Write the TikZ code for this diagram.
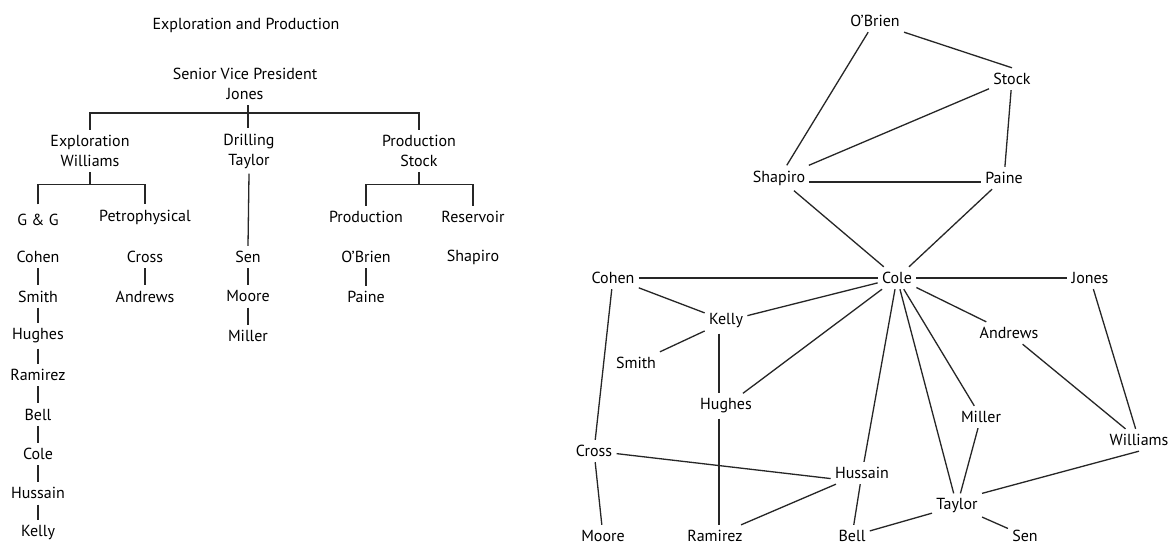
\documentclass[tikz,border=0pt]{standalone}
\usepackage{fontspec}
\setmainfont{PT Sans}

\tikzset{
  person/.style={font=\fontsize{8}{10}\selectfont, inner xsep=2pt, inner ysep=2.5pt, align=center, text=black},
  link/.style={black!85, line width=0.65pt},
}

\begin{document}
\begin{tikzpicture}[x=0.5pt, y=-0.5pt]
  \fill[white] (0,0) rectangle (1170,547);
  \useasboundingbox (0,0) rectangle (1170,547);

  % Org chart
  \node[person] (oc-title) at (246,25) {Exploration and Production};
  \node[person] (oc-svp) at (245,84) {Senior Vice President\\Jones};
  \node[person] (oc-expl) at (90,151) {Exploration\\Williams};
  \node[person] (oc-drill) at (249,151) {Drilling\\Taylor};
  \node[person] (oc-prod) at (419,151) {Production\\Stock};
  \node[person] (oc-gg) at (38,220) {G \& G};
  \node[person] (oc-petro) at (145,217) {Petrophysical};
  \node[person] (oc-prodn) at (366,217) {Production};
  \node[person] (oc-res) at (473,217) {Reservoir};

  % Staff columns
  \foreach \who [count=\i from 0] in {Cohen,Smith,Hughes,Ramirez,Bell,Cole,Hussain,Kelly}
    \node[person] (oc-\who) at (38,{257+39.4*\i}) {\who};
  \foreach \who [count=\i from 0] in {Cross,Andrews}
    \node[person] (oc-\who) at (145,{257+39.4*\i}) {\who};
  \foreach \who [count=\i from 0] in {Sen,Moore,Miller}
    \node[person] (oc-\who) at (248,{257+39.4*\i}) {\who};
  \node[person] (oc-OBrien) at (366,257) {O’Brien};
  \node[person] (oc-Paine) at (366,297) {Paine};
  \node[person] (oc-Shapiro) at (473,257) {Shapiro};

  % Brackets
  \coordinate (oc-bar) at (248,113);
  \draw[link] (oc-bar |- oc-svp.south) -- (oc-bar |- oc-drill.north);
  \draw[link] (oc-expl.north) |- (oc-bar) -| (oc-prod.north);
  \draw[link] (oc-expl.south) -- ++(0,12) coordinate (oc-wbar);
  \draw[link] (oc-gg.north |- oc-petro.north) |- (oc-wbar) -| (oc-petro.north);
  \draw[link] (oc-prod.south) -- ++(0,12) coordinate (oc-sbar);
  \draw[link] (oc-prodn.north) |- (oc-sbar) -| (oc-res.north);
  \draw[link] (oc-drill.south) -- (oc-Sen.north);

  \foreach \a/\b in {Cohen/Smith, Smith/Hughes, Hughes/Ramirez, Ramirez/Bell, Bell/Cole,
      Cole/Hussain, Hussain/Kelly, Cross/Andrews, Sen/Moore, Moore/Miller, OBrien/Paine}
    \draw[link] (oc-\a) -- (oc-\b);

  % Network
  \node[person] (nw-OBrien) at (875,21) {O’Brien};
  \node[person] (nw-Stock) at (1012,79) {Stock};
  \node[person] (nw-Shapiro) at (779,178) {Shapiro};
  \node[person] (nw-Paine) at (1004,178) {Paine};
  \node[person] (nw-Cole) at (897,278) {Cole};
  \node[person] (nw-Cohen) at (613,278) {Cohen};
  \node[person] (nw-Jones) at (1090,278) {Jones};
  \node[person] (nw-Kelly) at (726,321) {Kelly};
  \node[person] (nw-Smith) at (636,363) {Smith};
  \node[person] (nw-Andrews) at (1009,333) {Andrews};
  \node[person] (nw-Hughes) at (726,406) {Hughes};
  \node[person] (nw-Miller) at (981,417) {Miller};
  \node[person] (nw-Williams) at (1139,440) {Williams};
  \node[person] (nw-Cross) at (594,451) {Cross};
  \node[person] (nw-Hussain) at (862,473) {Hussain};
  \node[person] (nw-Taylor) at (957,506) {Taylor};
  \node[person] (nw-Moore) at (603,536) {Moore};
  \node[person] (nw-Ramirez) at (715,536) {Ramirez};
  \node[person] (nw-Bell) at (852,536) {Bell};
  \node[person] (nw-Sen) at (1025,536) {Sen};

  \foreach \a/\b in {OBrien/Shapiro, Shapiro/Stock, Stock/Paine, Shapiro/Cole, Paine/Cole,
      Cohen/Cole, Cole/Jones, Cohen/Kelly, Kelly/Cole, Kelly/Smith, Hughes/Cole,
      Cole/Andrews, Cole/Miller, Cole/Taylor, Cole/Hussain, Andrews/Williams,
      Jones/Williams, Miller/Taylor, Taylor/Bell, Taylor/Sen, Cohen/Cross,
      Cross/Moore, Hussain/Ramirez, Hussain/Bell}
    \draw[link] (nw-\a) -- (nw-\b);
  \draw[link] (nw-OBrien.south east) -- (nw-Stock.north);
  \draw[link] (nw-Shapiro.base east) -- (nw-Shapiro.base east -| nw-Paine.west);
  \draw[link] (nw-Cross) -- (nw-Hussain.base west);
  \draw[link] (nw-Williams.south) -- (nw-Taylor.north east);
  \draw[link] ([xshift=-3.5pt]nw-Kelly.south) -- ([xshift=-3.5pt]nw-Hughes.north);
  \draw[link] ([xshift=-3.5pt]nw-Hughes.south) -- ([xshift=2pt]nw-Ramirez.north);
\end{tikzpicture}
\end{document}
